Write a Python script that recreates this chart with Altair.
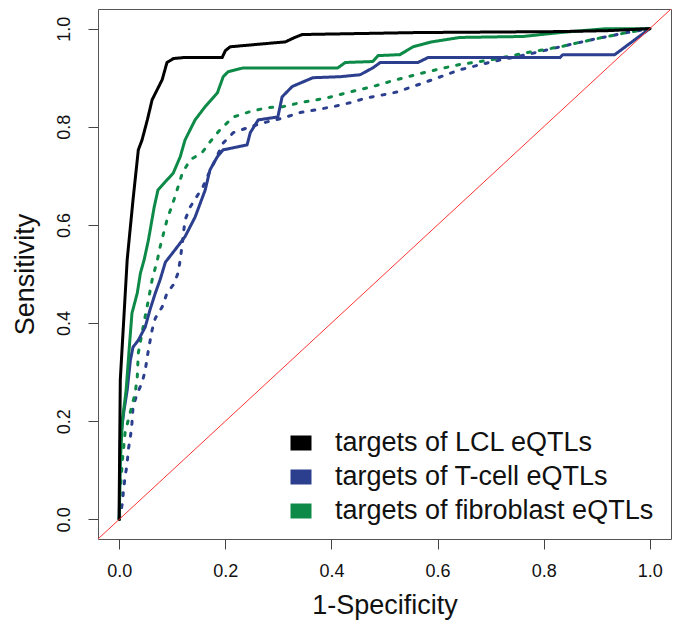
import altair as alt
import pandas as pd

# ---- data (1-specificity, sensitivity) ----
series_names = ["targets of LCL eQTLs", "targets of T-cell eQTLs", "targets of fibroblast eQTLs"]
series_colors = ["#000000", "#2B3F8E", "#0E8A48"]

lcl_x = [0, 0, 0.002, 0.015, 0.026, 0.036, 0.043, 0.053, 0.062, 0.081, 0.090, 0.102, 0.121, 0.194, 0.200,
         0.209, 0.271, 0.313, 0.331, 0.345, 0.561, 0.831, 0.925, 1.0]
lcl_y = [0, 0.039, 0.284, 0.529, 0.651, 0.753, 0.773, 0.814, 0.855, 0.896, 0.931, 0.939, 0.941, 0.941, 0.955,
         0.963, 0.969, 0.973, 0.982, 0.988, 0.992, 0.994, 0.996, 1.0]

tcell_x = [0, 0.002, 0.009, 0.015, 0.021, 0.026, 0.036, 0.049, 0.058, 0.068, 0.077, 0.087, 0.105, 0.124, 0.143,
           0.162, 0.171, 0.185, 0.196, 0.241, 0.247, 0.262, 0.299, 0.307, 0.326, 0.365, 0.416, 0.454, 0.478,
           0.492, 0.563, 0.582, 0.831, 0.836, 0.934, 1.0]
tcell_y = [0, 0.161, 0.222, 0.263, 0.324, 0.351, 0.365, 0.392, 0.427, 0.461, 0.488, 0.524, 0.549, 0.576, 0.616,
           0.671, 0.712, 0.739, 0.753, 0.763, 0.788, 0.814, 0.820, 0.861, 0.882, 0.900, 0.902, 0.906, 0.920,
           0.931, 0.931, 0.941, 0.941, 0.947, 0.947, 1.0]

fibro_x = [0, 0.002, 0.006, 0.013, 0.019, 0.024, 0.034, 0.040, 0.047, 0.055, 0.066, 0.073, 0.102, 0.115, 0.124,
           0.143, 0.162, 0.185, 0.196, 0.205, 0.234, 0.412, 0.426, 0.478, 0.488, 0.529, 0.554, 0.589, 0.642,
           0.761, 0.831, 0.919, 1.0]
fibro_y = [0, 0.114, 0.202, 0.263, 0.351, 0.420, 0.461, 0.502, 0.529, 0.569, 0.637, 0.671, 0.706, 0.739, 0.773,
           0.814, 0.841, 0.869, 0.902, 0.912, 0.920, 0.920, 0.931, 0.933, 0.945, 0.947, 0.963, 0.973, 0.982,
           0.984, 0.992, 1.0, 1.0]

fibro_d_x = [0, 0.002, 0.006, 0.011, 0.017, 0.030, 0.034, 0.036, 0.045, 0.055, 0.062, 0.072, 0.077, 0.090, 0.105,
             0.119, 0.134, 0.156, 0.171, 0.190, 0.215, 0.247, 0.279, 0.309, 0.341, 0.392, 0.435, 0.478, 0.516,
             0.580, 0.642, 0.704, 0.768, 0.831, 0.893, 0.957, 1.0]
fibro_d_y = [0, 0.059, 0.120, 0.176, 0.202, 0.257, 0.290, 0.339, 0.392, 0.447, 0.488, 0.529, 0.555, 0.610, 0.657,
             0.706, 0.733, 0.747, 0.769, 0.794, 0.820, 0.831, 0.839, 0.841, 0.849, 0.859, 0.871, 0.882, 0.894,
             0.912, 0.927, 0.937, 0.951, 0.963, 0.978, 0.992, 1.0]

tcell_d_x = [0, 0.006, 0.008, 0.011, 0.015, 0.017, 0.021, 0.024, 0.026, 0.034, 0.043, 0.049, 0.055, 0.062, 0.068,
             0.081, 0.090, 0.102, 0.111, 0.115, 0.119, 0.124, 0.134, 0.158, 0.166, 0.196, 0.215, 0.247, 0.279,
             0.309, 0.341, 0.373, 0.403, 0.435, 0.467, 0.497, 0.524, 0.580, 0.642, 0.704, 0.768, 0.831, 0.893,
             0.957, 1.0]
tcell_d_y = [0, 0.033, 0.059, 0.086, 0.114, 0.141, 0.167, 0.196, 0.229, 0.257, 0.278, 0.304, 0.345, 0.386, 0.410,
             0.433, 0.461, 0.478, 0.502, 0.529, 0.563, 0.610, 0.637, 0.678, 0.698, 0.767, 0.788, 0.800, 0.810,
             0.818, 0.829, 0.835, 0.841, 0.849, 0.859, 0.865, 0.871, 0.892, 0.916, 0.933, 0.947, 0.963, 0.978,
             0.992, 1.0]

diag = [-0.04, 1.04]
tick_vals = [0.0, 0.2, 0.4, 0.6, 0.8, 1.0]
domain = [-0.04, 1.04]

# ---- build long table ----
rows = []
curves = [
    ("tcell_d", series_names[1], "dotted", tcell_d_x, tcell_d_y),
    ("fibro_d", series_names[2], "dotted", fibro_d_x, fibro_d_y),
    ("tcell", series_names[1], "solid", tcell_x, tcell_y),
    ("fibro", series_names[2], "solid", fibro_x, fibro_y),
    ("lcl", series_names[0], "solid", lcl_x, lcl_y),
]
for key, name, style, xs, ys in curves:
    for i, (a, b) in enumerate(zip(xs, ys)):
        rows.append({"curve": key, "group": name, "style": style, "i": i, "x": a, "y": b})
df = pd.DataFrame(rows)
diag_df = pd.DataFrame({"x": diag, "y": diag})

FONT = "Liberation Sans"

xscale = alt.Scale(domain=domain, nice=False, zero=False)
yscale = alt.Scale(domain=domain, nice=False, zero=False)

xaxis = alt.Axis(values=tick_vals, format=".1f", grid=False, domain=False, tickSize=10, tickColor="#444",
                 labelFontSize=18, labelPadding=13, labelColor="#111", title="1-Specificity",
                 titleFontSize=27, titleFontWeight="normal", titleColor="#111", titlePadding=12)
yaxis = alt.Axis(values=tick_vals, format=".1f", grid=False, domain=False, tickSize=10, tickColor="#444",
                 labelFontSize=18, labelPadding=15, labelColor="#111", labelAngle=270,
                 labelAlign="center", labelBaseline="bottom", title="Sensitivity",
                 titleFontSize=27, titleFontWeight="normal", titleColor="#111", titleAngle=270,
                 titleX=-73, titleY=265, titleAlign="center", titleBaseline="middle")

diag_layer = alt.Chart(diag_df).mark_line(color="#FF3535", strokeWidth=1).encode(
    x=alt.X("x:Q", scale=xscale, axis=xaxis),
    y=alt.Y("y:Q", scale=yscale, axis=yaxis),
)

curve_layer = alt.Chart(df).mark_line(strokeWidth=3, strokeCap="round", strokeJoin="round").encode(
    x=alt.X("x:Q", scale=xscale, axis=xaxis),
    y=alt.Y("y:Q", scale=yscale, axis=yaxis),
    color=alt.Color("group:N", scale=alt.Scale(domain=series_names, range=series_colors),
                    legend=alt.Legend(title=None, orient="none", legendX=185, legendY=421,
                                      symbolType="stroke", symbolSize=441, symbolStrokeWidth=15,
                                      labelFontSize=27, labelFont=FONT, labelColor="#111",
                                      labelOffset=16, rowPadding=7, clipHeight=26, padding=0,
                                      labelLimit=600)),
    strokeDash=alt.StrokeDash("style:N", scale=alt.Scale(domain=["solid", "dotted"], range=[[1, 0], [3, 9]]),
                              legend=None),
    detail="curve:N",
    order="i:Q",
)

chart = alt.layer(curve_layer, diag_layer).properties(
    width=573, height=530,
    autosize=alt.AutoSizeParams(type="none"),
    padding={"left": 90, "top": 1, "right": 1, "bottom": 90},
).configure(font=FONT).configure_view(stroke="#555", strokeWidth=1)

chart.save("out.html", embed_options={"renderer": "svg", "actions": False})
